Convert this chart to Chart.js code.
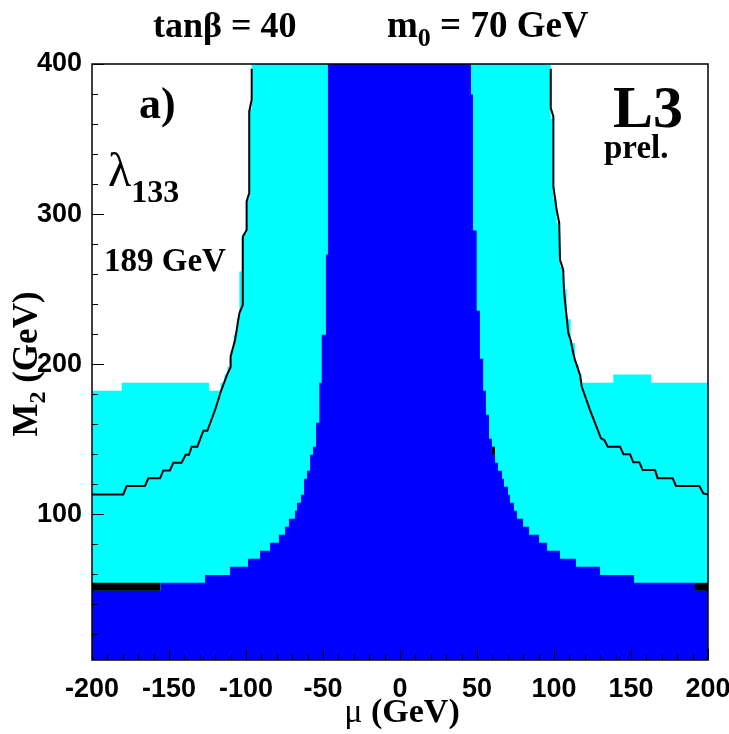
<!DOCTYPE html>
<html>
<head>
<meta charset="utf-8">
<script src="https://cdn.jsdelivr.net/npm/chart.js@4.4.0/dist/chart.umd.min.js"></script>
<style>
  html, body { margin: 0; padding: 0; background: #fff; }
  #plot { display: block; }
</style>
</head>
<body>
<canvas id="plot" width="729" height="734"></canvas>
<script>
// axes: mu (GeV) horizontally, M2 (GeV) vertically
const muTicks = [-200, -150, -100, -50, 0, 50, 100, 150, 200];
const m2Ticks = [100, 200, 300, 400];

// dark blue region: upper edge, each M2 value holds from its mu up to the next mu
const darkMu = [-200, -155.4, -126.6, -110.4, -98.7, -90.9, -84.4, -78.6, -74.7, -72.1,
  -68.2, -66.9, -64.3, -62.3, -60.4, -58.4, -56.5, -54.5, -52.4, -50.8, -48.1, -46.8,
  46.1, 47.4, 49.8, 51.9, 54.0, 55.8, 57.8, 59.7, 61.7, 63.6, 66.2, 67.5, 70.1, 71.4,
  74.0, 76.0, 79.9, 83.8, 90.3, 95.5, 103.9, 114.3, 129.9, 152.0, 191.6, 200];
const darkM2 = [49.1, 54.4, 59.7, 65.1, 70.4, 75.7, 81.1, 86.4, 91.7, 97.1,
  102.4, 107.7, 113.1, 123.7, 129.1, 139.7, 145.1, 161.1, 187.7, 219.7, 273.1, 400,
  379.7, 289.1, 235.7, 203.7, 182.4, 166.4, 150.4, 139.7, 134.4, 129.1, 123.7, 118.4, 113.1, 107.7,
  102.4, 97.1, 91.7, 86.4, 81.1, 75.7, 70.4, 65.1, 59.7, 54.4, 49.1, 49.1];

// light blue region: upper edge, same step convention
const lightMu = [-200, -180.7, -124, -116.4, -114, -112, -110, -108, -106, -104.3,
  -102.1, -99.6, -97.9, -96.3, 97.9, 99.6, 101.7, 103.9, 106, 108.2, 110.8, 113.6,
  116, 118, 138.5, 163.2, 200];
const lightM2 = [182.4, 187.7, 182.4, 187.7, 193.1, 198.4, 209.1, 219.7, 230.4, 261.7,
  287.3, 310, 370, 400, 363.7, 310, 294, 265, 250, 230, 214, 200,
  193.1, 187.7, 193.1, 187.7, 187.7];

// contour lines
const lineLeftMu = [-200, -179.7, -177.5, -165.6, -163.4, -155.8, -153.7, -149.4, -147.2, -141.8,
  -139.2, -137, -135.3, -131.6, -127.7, -125.1, -120.1, -116.4, -111.9, -110, -110, -107.1,
  -104.3, -102.1, -102.1, -99.6, -99.6, -97.9, -97.9, -96.3, -96.3];
const lineLeftM2 = [113.3, 113.3, 118.9, 118.9, 124, 124, 129.3, 129.3, 134.4, 134.4,
  139.7, 139.7, 145.1, 145.1, 155.7, 155.7, 169.5, 181.7, 194, 198, 205, 216.2,
  234, 239.5, 285, 289.5, 308.4, 314, 368.4, 376.2, 396.9];
const lineRightMu = [97.9, 97.9, 99.6, 99.6, 101.7, 103.4, 103.9, 106, 106.5, 108.2,
  109.3, 110.8, 112.5, 113.6, 116.9, 118, 123.4, 130.5, 132.7, 134.9, 142.9, 145.1,
  149.4, 151.5, 155.4, 157.6, 165.6, 167.3, 177.1, 179.2, 194.4, 197, 200];
const lineRightM2 = [396.9, 370.7, 365, 318.4, 302.9, 294, 269.5, 262.9, 248.4, 231.7,
  220.7, 216.2, 207.3, 203, 192.9, 185.1, 169.5, 150.7, 149.5, 145.1, 145.1, 140,
  140, 134.7, 134.7, 129.5, 129.5, 124, 124, 118.9, 118.9, 114, 113.3];

// single black cells
const cellMuLo = [-200, 59.7, 191.6];
const cellMuHi = [-155.4, 61.7, 200];
const cellM2Lo = [49.1, 139.7, 49.1];
const cellM2Hi = [54.4, 145.1, 54.4];

const pts = (xs, ys) => xs.map((x, i) => ({ x: x, y: ys[i] }));

const datasets = [];
datasets.push({ data: pts(lineLeftMu, lineLeftM2), borderColor: '#000', borderWidth: 2, pointRadius: 0, fill: false, tension: 0 });
datasets.push({ data: pts(lineRightMu, lineRightM2), borderColor: '#000', borderWidth: 2, pointRadius: 0, fill: false, tension: 0 });
cellMuLo.forEach((lo, i) => {
  datasets.push({
    data: [{ x: lo, y: cellM2Hi[i] }, { x: cellMuHi[i], y: cellM2Hi[i] }],
    borderColor: 'transparent', borderWidth: 0, pointRadius: 0,
    backgroundColor: '#000', fill: { value: cellM2Lo[i] }
  });
});
datasets.push({ data: pts(darkMu, darkM2), stepped: true, borderColor: 'transparent', borderWidth: 0,
  pointRadius: 0, backgroundColor: '#0000ff', fill: 'start' });
datasets.push({ data: pts(lightMu, lightM2), stepped: true, borderColor: 'transparent', borderWidth: 0,
  pointRadius: 0, backgroundColor: '#00ffff', fill: 'start' });

const SERIF = '"Liberation Serif", "Times New Roman", serif';
const SANS = '"Liberation Sans", Arial, sans-serif';

// draws a run of text pieces one after another
function rich(ctx, parts, x, y, align) {
  let w = 0;
  parts.forEach(p => { ctx.font = p.font; w += ctx.measureText(p.t).width; });
  let cx = align === 'center' ? x - w / 2 : x;
  parts.forEach(p => {
    ctx.font = p.font;
    ctx.fillText(p.t, cx, y + (p.dy || 0));
    cx += ctx.measureText(p.t).width;
  });
}

const decor = {
  id: 'decor',
  afterDatasetsDraw(chart) {
    const ctx = chart.ctx, a = chart.chartArea;
    const xs = chart.scales.x, ys = chart.scales.y;
    ctx.save();
    ctx.strokeStyle = '#000';
    ctx.lineWidth = 1;
    for (let v = -200; v <= 200; v += 10) {
      const px = Math.round(xs.getPixelForValue(v)) + 0.5;
      const len = v % 50 === 0 ? 11 : 6;
      ctx.beginPath(); ctx.moveTo(px, a.bottom); ctx.lineTo(px, a.bottom - len); ctx.stroke();
    }
    for (let v = 20; v <= 400; v += 20) {
      const py = Math.round(ys.getPixelForValue(v)) + 0.5;
      const len = v % 100 === 0 ? 12 : 6;
      ctx.beginPath(); ctx.moveTo(a.left, py); ctx.lineTo(a.left + len, py); ctx.stroke();
    }
    ctx.lineWidth = 1.5;
    ctx.strokeRect(a.left, a.top, a.right - a.left, a.bottom - a.top);
    ctx.restore();
  },
  afterDraw(chart) {
    const ctx = chart.ctx;
    ctx.save();
    ctx.fillStyle = '#000';
    ctx.textBaseline = 'alphabetic';
    ctx.textAlign = 'left';
    const b = n => 'bold ' + n + 'px ' + SERIF;
    rich(ctx, [{ t: 'tanβ = 40', font: b(36) }], 153, 37);
    rich(ctx, [{ t: 'm', font: b(37) }, { t: '0', font: b(26), dy: 9 }, { t: ' = 70 GeV', font: b(37) }], 387, 37);
    rich(ctx, [{ t: 'a)', font: b(44) }], 139, 118);
    rich(ctx, [{ t: 'λ', font: '48px ' + SERIF }, { t: '133', font: b(32), dy: 16 }], 108, 186);
    rich(ctx, [{ t: '189 GeV', font: b(33) }], 104, 271);
    rich(ctx, [{ t: 'L3', font: b(60) }], 613, 127);
    rich(ctx, [{ t: 'prel.', font: b(33) }], 604, 158);
    rich(ctx, [{ t: 'μ', font: '34px ' + SERIF }, { t: ' (GeV)', font: b(34) }], 402, 722, 'center');
    ctx.translate(37, 364);
    ctx.rotate(-Math.PI / 2);
    rich(ctx, [{ t: 'M', font: b(35) }, { t: '2', font: b(24), dy: 8 }, { t: ' (GeV)', font: b(35) }], 0, 0, 'center');
    ctx.restore();
  }
};

new Chart(document.getElementById('plot'), {
  type: 'line',
  data: { datasets: datasets },
  options: {
    responsive: false,
    animation: false,
    devicePixelRatio: 1,
    layout: { padding: { left: 0, right: 21, top: 64, bottom: 0 } },
    plugins: { legend: { display: false }, tooltip: { enabled: false }, title: { display: false } },
    scales: {
      x: {
        type: 'linear', min: -200, max: 200,
        afterFit: s => { s.height = 74; s.paddingLeft = 0; s.paddingRight = 0; },
        afterBuildTicks: s => { s.ticks = muTicks.map(v => ({ value: v })); },
        grid: { display: false, drawTicks: false },
        border: { display: false },
        ticks: { color: '#000', padding: 13, maxRotation: 0, autoSkip: false,
          font: { family: SANS, size: 27, weight: 'bold' } }
      },
      y: {
        type: 'linear', min: 3, max: 400,
        afterFit: s => { s.width = 92; s.paddingTop = 0; s.paddingBottom = 0; },
        afterBuildTicks: s => { s.ticks = m2Ticks.map(v => ({ value: v })); },
        grid: { display: false, drawTicks: false },
        border: { display: false },
        ticks: { color: '#000', padding: 10, autoSkip: false,
          font: { family: SANS, size: 27, weight: 'bold' } }
      }
    }
  },
  plugins: [decor]
});
</script>
</body>
</html>
